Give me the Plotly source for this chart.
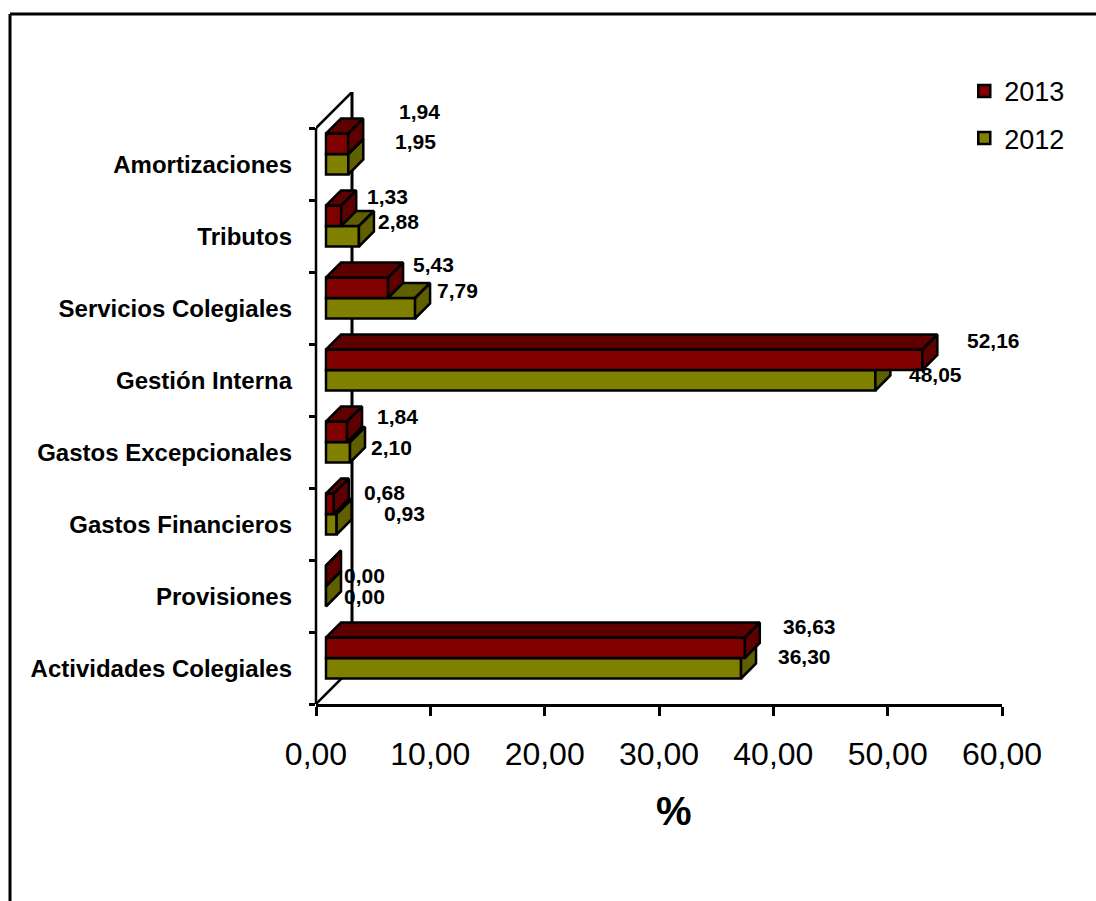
import plotly.graph_objects as go

categories = ["Actividades Colegiales", "Provisiones", "Gastos Financieros", "Gastos Excepcionales",
              "Gestión Interna", "Servicios Colegiales", "Tributos", "Amortizaciones"]
values_2013 = [36.63, 0.00, 0.68, 1.84, 52.16, 5.43, 1.33, 1.94]
values_2012 = [36.30, 0.00, 0.93, 2.10, 48.05, 7.79, 2.88, 1.95]
x_ticks = [0, 10, 20, 30, 40, 50, 60]

# label offsets in px from the end of each bar (Excel's manual label placement)
label_dx_2013 = [65, 38, 51, 50, 71, 45, 46, 71]
label_dy_2013 = [-21, 0, -11, -15, -19, -23, -19, -32]
label_dx_2012 = [63, 38, 68, 41, 60, 42, 40, 67]
label_dy_2012 = [-12, 0, -11, -5, -6, -18, -15, -23]

W, H = 1096, 901
L, R, T, B = 316, 1002, 92, 704
px_x = (R - L) / 60.0
px_y = 72.0
front_x, front_y = 10 / px_x, 10 / px_y
depth_x, depth_y = 15 / px_x, 15 / px_y
bar_w = 20.5 / px_y
wall_x, wall_y = 36 / px_x, 36 / px_y

RED, RED_D = "#800000", "#5f0000"
OLV, OLV_D = "#808000", "#5f5f00"
FONT = "Liberation Sans"
LW = 2.5


def depth_faces(values, lo_off):
    xs, ys = [], []
    for i, v in enumerate(values):
        y0 = i + 0.5 + front_y + lo_off
        y1 = y0 + bar_w
        xa, xb = front_x, front_x + v
        # top face
        xs += [xa, xb, xb + depth_x, xa + depth_x, xa, None]
        ys += [y1, y1, y1 + depth_y, y1 + depth_y, y1, None]
        # side face
        xs += [xb, xb + depth_x, xb + depth_x, xb, xb, None]
        ys += [y0, y0 + depth_y, y1 + depth_y, y1, y0, None]
    return xs, ys


centres = [i + 0.5 + front_y for i in range(len(categories))]
fig = go.Figure()

# 2012 in the base subplot, 2013 in an overlay so that it sits in front
fig.add_trace(go.Bar(name="2012", legendgroup="2012", legendrank=2, orientation="h", x=values_2012, y=centres,
                     base=front_x, width=bar_w, offset=-bar_w,
                     marker=dict(color=OLV, line=dict(color="black", width=LW)), xaxis="x", yaxis="y"))
xs, ys = depth_faces(values_2012, -bar_w)
fig.add_trace(go.Scatter(x=xs, y=ys, mode="lines", fill="toself", fillcolor=OLV_D, showlegend=False,
                         legendgroup="2012", line=dict(color="black", width=LW), xaxis="x", yaxis="y"))
fig.add_trace(go.Bar(name="2013", legendgroup="2013", legendrank=1, orientation="h", x=values_2013, y=centres,
                     base=front_x, width=bar_w, offset=0,
                     marker=dict(color=RED, line=dict(color="black", width=LW)), xaxis="x2", yaxis="y2"))
xs, ys = depth_faces(values_2013, 0)
fig.add_trace(go.Scatter(x=xs, y=ys, mode="lines", fill="toself", fillcolor=RED_D, showlegend=False,
                         legendgroup="2013", line=dict(color="black", width=LW), xaxis="x2", yaxis="y2"))


def fmt(v):
    return f"{v:.2f}".replace(".", ",")


annotations = []
for i in range(len(categories)):
    for vals, dxs, dys, off in ((values_2013, label_dx_2013, label_dy_2013, bar_w / 2),
                                (values_2012, label_dx_2012, label_dy_2012, -bar_w / 2)):
        annotations.append(dict(x=front_x + vals[i], y=centres[i] + off, xref="x2", yref="y2",
                                text=fmt(vals[i]), showarrow=False, xshift=dxs[i], yshift=-dys[i],
                                font=dict(family=FONT, size=21, color="black", weight=700)))
annotations.append(dict(x=(674 - L) / (R - L), y=(B - 811) / (B - T), xref="paper", yref="paper", text="%",
                        xanchor="center", yanchor="middle", showarrow=False,
                        font=dict(family=FONT, size=40, color="black", weight=700)))


def line(x0, y0, x1, y1, **kw):
    return dict(type="line", x0=x0, y0=y0, x1=x1, y1=y1, layer="below",
                line=dict(color="black", width=kw.pop("width", 2.5)), **kw)


n = len(categories)
shapes = [
    line(0, 0, 0, n, xref="paper", yref="y"),
    line(0, n, wall_x, n + wall_y, xref="x", yref="y"),
    line(wall_x, n + wall_y, wall_x, wall_y, xref="x", yref="y", width=3),
    line(0, 0, wall_x, wall_y, xref="x", yref="y"),
    # outer chart frame, open on the right and at the bottom
    line((10 - L) / (R - L), (B - 14) / (B - T), (W - L) / (R - L), (B - 14) / (B - T),
         xref="paper", yref="paper", width=3),
    line((10 - L) / (R - L), (B - 14) / (B - T), (10 - L) / (R - L), (B - H) / (B - T),
         xref="paper", yref="paper", width=3),
]

y_range = [0, n + wall_y]
fig.update_layout(
    width=W, height=H, autosize=False,
    margin=dict(l=L, r=W - R, t=T, b=H - B, pad=0, autoexpand=False),
    paper_bgcolor="white", plot_bgcolor="white",
    separators=",.",
    barmode="overlay",
    font=dict(family=FONT, color="black"),
    xaxis=dict(range=[0, 60], tickvals=x_ticks, tickformat=".2f", ticks="outside", ticklen=9, tickwidth=2.5,
               tickcolor="black", showline=True, linecolor="black", linewidth=2.5, showgrid=False, zeroline=False,
               tickfont=dict(family=FONT, size=32, color="black"), ticklabelstandoff=11),
    yaxis=dict(range=y_range, tickmode="array", tickvals=[i + 0.5 - 1 / px_y for i in range(n)], ticktext=categories,
               ticks="", showgrid=False, zeroline=False, showline=False, ticklabelstandoff=23,
               tickfont=dict(family=FONT, size=24, color="black", weight=700),
               minor=dict(tickmode="array", tickvals=list(range(n + 1)), ticks="outside", ticklen=6, tickwidth=2.5,
                          tickcolor="black", showgrid=False)),
    xaxis2=dict(range=[0, 60], overlaying="x", visible=False, matches="x"),
    yaxis2=dict(range=y_range, overlaying="y", visible=False, matches="y"),
    legend=dict(x=0.945, y=1.041, xanchor="left", yanchor="top", traceorder="grouped", tracegroupgap=9,
                font=dict(family=FONT, size=27, color="black"), bgcolor="rgba(0,0,0,0)"),
    annotations=annotations,
    shapes=shapes,
)

fig.write_html("out.html", config=dict(displayModeBar=False),
               post_script="document.body.style.margin='0';document.documentElement.style.overflow='hidden';")
